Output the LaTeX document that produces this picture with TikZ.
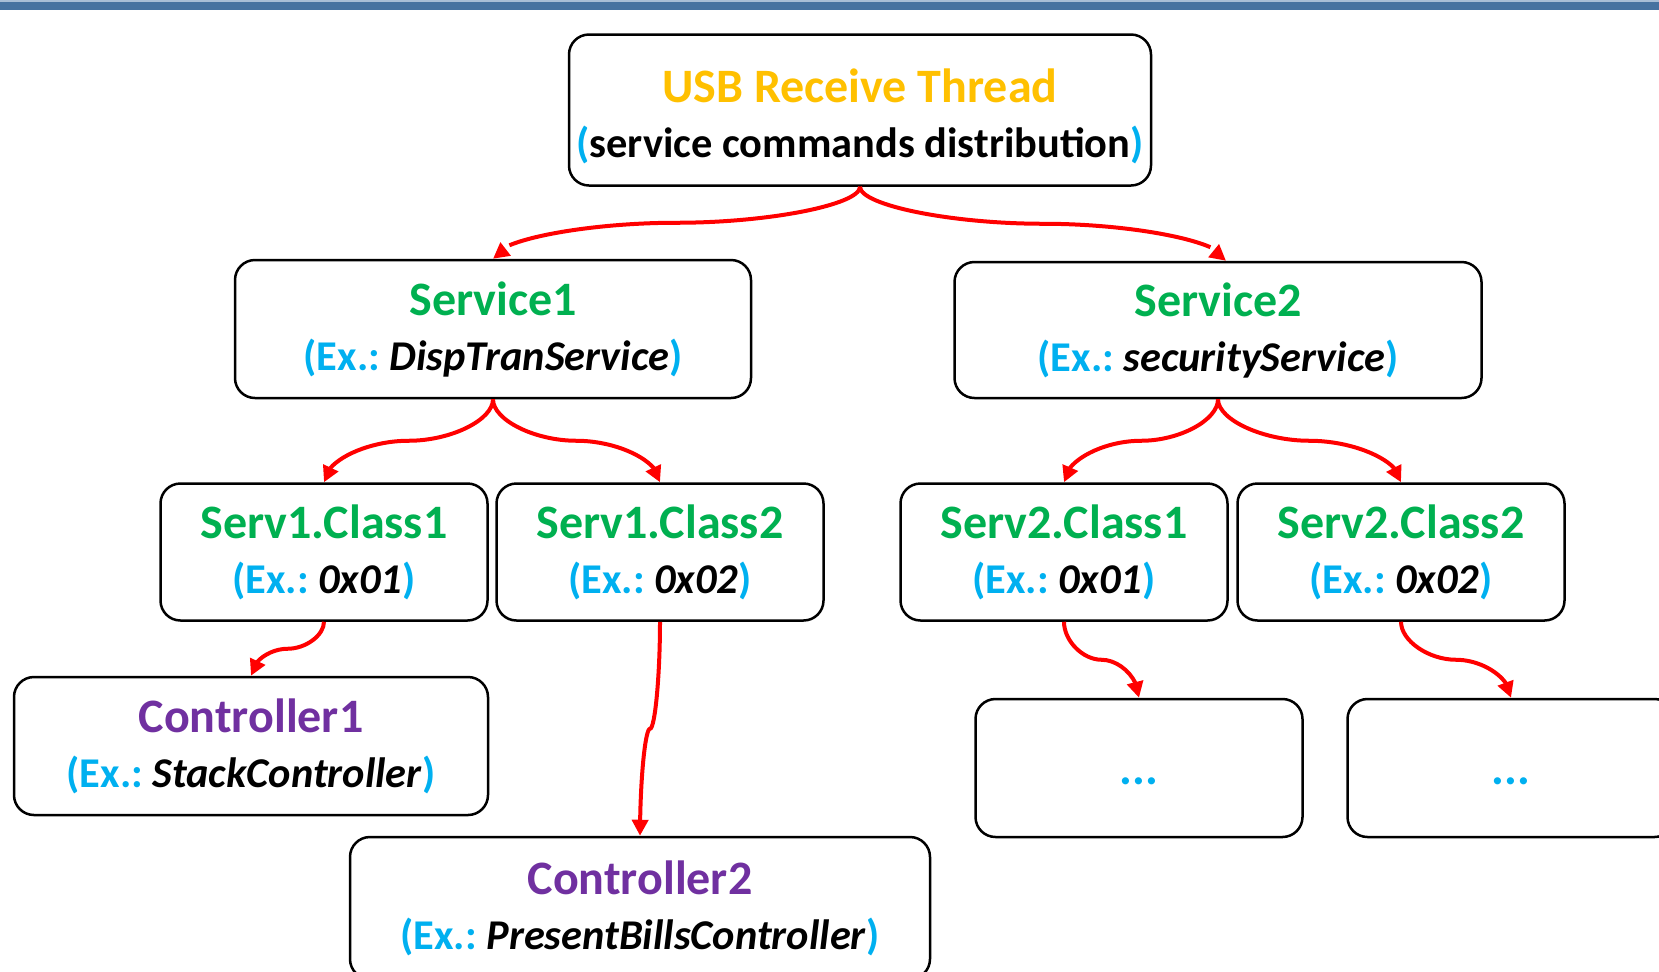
\documentclass[tikz,border=0pt]{standalone}
\usepackage{fontspec}
\setmainfont{Carlito}
\usetikzlibrary{arrows.meta,bending,calc}

\definecolor{titlegold}{HTML}{FFC000}
\definecolor{svcgreen}{HTML}{00B050}
\definecolor{exblue}{HTML}{00B0F0}
\definecolor{ctrlpurple}{HTML}{7030A0}
\definecolor{linkred}{HTML}{FF0000}
\definecolor{barblue}{HTML}{4672A0}
\definecolor{barlight}{HTML}{A8BED6}

% second line of a card: slightly smaller type
\newcommand{\subline}{\fontsize{21.2}{27.5}\selectfont}
% "(Ex.: <name>)" with blue brackets and an italic example name
\newcommand{\exref}[1]{\subline\textcolor{exblue}{(Ex.:}\ \textit{#1}\textcolor{exblue}{)}}

\begin{document}
\frenchspacing
\begin{tikzpicture}[x=0.5pt,y=-0.5pt,
  card/.style={draw=black, line width=1.25pt, rounded corners=10pt, fill=white,
    align=center, inner sep=0pt,
    font=\fontsize{24}{27.5}\selectfont\bfseries},
  smallcard/.style={card, minimum width=163.5pt, minimum height=68.5pt},
  % elbow-like curve: leaves downwards, horizontal at half way, arrives downwards
  link/.style={draw=linkred, line width=2pt,
    -{Triangle[length=8pt,width=8pt,flex]},
    to path={let \p1=(\tikztostart), \p2=(\tikztotarget) in
      .. controls (\x1,{0.75*\y1+0.25*\y2})
              and ({0.75*\x1+0.25*\x2},{0.5*\y1+0.5*\y2}) ..
      ({0.5*\x1+0.5*\x2},{0.5*\y1+0.5*\y2})
      .. controls ({0.25*\x1+0.75*\x2},{0.5*\y1+0.5*\y2})
              and (\x2,{0.25*\y1+0.75*\y2}) .. (\p2)}}
]
\useasboundingbox (0,0) rectangle (1659,971);
\clip (0,0) rectangle (1659,971);

% header rule
\fill[barlight] (0,0) rectangle (1659,1.5);
\fill[barblue] (0,1.5) rectangle (1659,10);

% thread
\node[card, minimum width=291pt, minimum height=75.5pt] (thread) at (860,110)
  {\rule{0pt}{23pt}\textcolor{titlegold}{USB Receive Thread}\\
   \subline\textcolor{exblue}{(}service commands distribution\textcolor{exblue}{)}};

% services
\node[card, minimum width=258pt, minimum height=69pt] (svc1) at (493,329)
  {\textcolor{svcgreen}{Service1}\\ \exref{DispTranService}};
\node[card, minimum width=263.5pt, minimum height=68pt] (svc2) at (1218,330)
  {\textcolor{svcgreen}{Service2}\\ \exref{securityService}};

% classes
\node[smallcard] (s1c1) at (324,552) {\textcolor{svcgreen}{Serv1.Class1}\\ \exref{0x01}};
\node[smallcard] (s1c2) at (660,552) {\textcolor{svcgreen}{Serv1.Class2}\\ \exref{0x02}};
\node[smallcard] (s2c1) at (1064,552) {\textcolor{svcgreen}{Serv2.Class1}\\ \exref{0x01}};
\node[smallcard] (s2c2) at (1401,552) {\textcolor{svcgreen}{Serv2.Class2}\\ \exref{0x02}};

% controllers
\node[card, minimum width=237pt, minimum height=69pt] (ctrl1) at (251,746)
  {\textcolor{ctrlpurple}{Controller1}\\ \exref{StackController}};
\node[card, minimum width=290pt, minimum height=71pt] (ctrl2) at (640,908)
  {\textcolor{ctrlpurple}{Controller2}\\ \exref{PresentBillsController}};
\node[card, minimum width=163.5pt, minimum height=69pt] (more1) at (1139,768)
  {\textcolor{exblue}{...\rule{0pt}{16.2pt}}};
\node[card, minimum width=163.5pt, minimum height=69pt] (more2) at (1511,768)
  {\textcolor{exblue}{...\rule{0pt}{16.2pt}}};

% connectors
\coordinate (svc2in) at ([xshift=4pt]svc2.north);
\draw[link] (thread.south) to (svc1.north);
\draw[link] (thread.south) to (svc2in);
\draw[link] (svc1.south) to (s1c1.north);
\draw[link] (svc1.south) to (s1c2.north);
\draw[link] (svc2.south) to (s2c1.north);
\draw[link] (svc2.south) to (s2c2.north);
\draw[link] (s1c1.south) to (ctrl1.north);
\draw[link] (s1c2.south) to (ctrl2.north);
\draw[link] (s2c1.south) to (more1.north);
\draw[link] (s2c2.south) to (more2.north);
\end{tikzpicture}
\end{document}
